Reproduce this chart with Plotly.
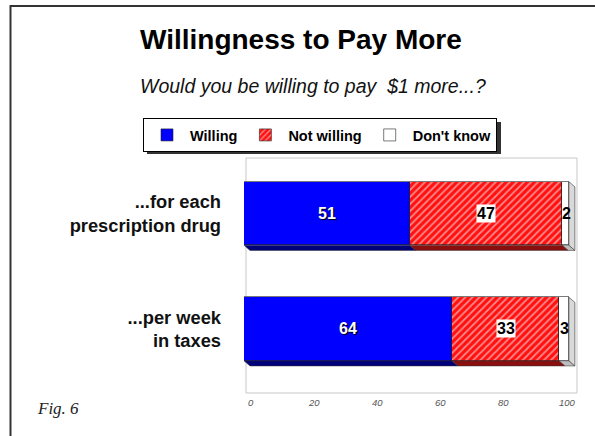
import plotly.graph_objects as go

# Survey results (percent)
questions = ["...for each<br>prescription drug", "...per week<br>in taxes"]
willing = [51, 64]
not_willing = [47, 33]
dont_know = [2, 3]
x_ticks = [0, 20, 40, 60, 80, 100]

series = [
    ("Willing", willing, "#0000ff", None),
    ("Not willing", not_willing, "#ff1010", "/"),
    ("Don't know", dont_know, "#ffffff", None),
]
dark = {"Willing": "#00007a", "Not willing": "#8a1010", "Don't know": "#bdbdbd"}

ypos = list(range(len(questions)))
bar_w = 0.55
FONT = "Liberation Sans, Arial, sans-serif"

# plot-area geometry in pixels, used to place paper-referenced items
L, R, T, B = 244, 577, 158, 393
W, H = R - L, B - T


def px(xp):
    return (xp - L) / W


def py(yp):
    return (B - yp) / H


fig = go.Figure()
for name, vals, color, pat in series:
    marker = dict(color=color, line=dict(color="#222222", width=0.6))
    if pat:
        marker["pattern"] = dict(shape=pat, fgcolor="white", bgcolor=color,
                                 size=5, solidity=0.35, fillmode="overlay")
    fig.add_trace(go.Bar(
        name=f"<b>{name}</b>", y=ypos, x=vals, orientation="h", width=bar_w,
        marker=marker, hoverinfo="skip",
    ))

# depth faces (bottom strip of each segment and end cap) + value labels
dx, dy = 1.85, 0.045
shapes = []
annotations = []
for i, y in enumerate(ypos):
    start = 0
    yb = y + bar_w / 2
    yt = y - bar_w / 2
    for name, vals, color, pat in series:
        v = vals[i]
        end = start + v
        shapes.append(dict(
            type="path", xref="x", yref="y", layer="above",
            path=f"M{start},{yb} L{end},{yb} L{end+dx},{yb+dy} L{start+dx},{yb+dy} Z",
            fillcolor=dark[name], line=dict(color="#333333", width=0.5),
        ))
        mid = start + v / 2
        if name == "Willing":
            annotations.append(dict(
                x=mid, y=y, xref="x", yref="y", text=f"<b>{v}</b>", showarrow=False,
                font=dict(family=FONT, size=16, color="white", shadow="1px 1px 1px #000"),
            ))
        elif name == "Not willing":
            annotations.append(dict(
                x=mid, y=y, xref="x", yref="y", text=f"<b>{v}</b>", showarrow=False,
                bgcolor="white", borderpad=0,
                font=dict(family=FONT, size=16, color="black"),
            ))
        else:
            annotations.append(dict(
                x=mid + 0.3, y=y, xref="x", yref="y", text=f"<b>{v}</b>", showarrow=False,
                font=dict(family=FONT, size=16, color="black"),
            ))
        start = end
    # right end cap
    shapes.append(dict(
        type="path", xref="x", yref="y", layer="above",
        path=f"M{start},{yt} L{start+dx},{yt+dy} L{start+dx},{yb+dy} L{start},{yb} Z",
        fillcolor="#d9d9d9", line=dict(color="#333333", width=0.6),
    ))

# value axis tick labels along the floor
for t in x_ticks:
    annotations.append(dict(
        text=f"<i>{t}</i>", xref="paper", yref="paper",
        x=px(251 + t * 3.16), y=py(402), xanchor="center", yanchor="middle",
        showarrow=False, font=dict(family=FONT, size=9.5, color="#555555"),
    ))

# back wall outline
shapes.append(dict(type="rect", xref="paper", yref="paper", x0=px(246), x1=1.0, y0=0.0, y1=1.0,
                   line=dict(color="#c8c8c8", width=1), layer="below"))
# legend drop shadow
shapes.append(dict(type="rect", xref="paper", yref="paper",
                   x0=px(147), x1=px(501), y0=py(154), y1=py(122),
                   fillcolor="#333333", line=dict(width=0), layer="below"))
# outer frame
shapes.append(dict(type="path", xref="paper", yref="paper",
                   path=f"M {px(10.5)},{py(460)} L {px(10.5)},{py(6)} L {px(620)},{py(6)}",
                   line=dict(color="#333333", width=2)))

annotations += [
    dict(text="<b>Willingness to Pay More</b>", xref="paper", yref="paper",
         x=px(301), y=py(40), xanchor="center", yanchor="middle", showarrow=False,
         font=dict(family=FONT, size=28, color="black")),
    dict(text="<i>Would you be willing to pay&nbsp; $1 more...?</i>", xref="paper", yref="paper",
         x=px(313), y=py(86), xanchor="center", yanchor="middle", showarrow=False,
         font=dict(family=FONT, size=19.5, color="#111111")),
    dict(text="<i>Fig. 6</i>", xref="paper", yref="paper",
         x=px(35), y=py(408), xanchor="left", yanchor="middle", showarrow=False,
         font=dict(family="Liberation Serif, Times New Roman, serif", size=17, color="#222222")),
]

fig.update_layout(
    width=595, height=436,
    margin=dict(l=L, r=595 - R, t=T, b=436 - B),
    paper_bgcolor="white", plot_bgcolor="white",
    barmode="stack", bargap=0,
    showlegend=True,
    legend=dict(orientation="h", x=px(143), y=py(118),
                xanchor="left", yanchor="top", bgcolor="white",
                bordercolor="black", borderwidth=1, itemwidth=36,
                font=dict(family=FONT, size=14.5, color="black"),
                traceorder="normal"),
    xaxis=dict(range=[0, 102.5], showgrid=False, zeroline=False, showticklabels=False,
               ticks="", showline=False, fixedrange=True),
    yaxis=dict(range=[1.554, -0.48], tickvals=ypos, ticktext=[f"<b>{q}</b>" for q in questions],
               showgrid=False, zeroline=False, showline=False, ticks="",
               ticklabelstandoff=22,
               tickfont=dict(family=FONT, size=18.3, color="#111111")),
    shapes=shapes,
    annotations=annotations,
)

fig.write_html("out.html")
